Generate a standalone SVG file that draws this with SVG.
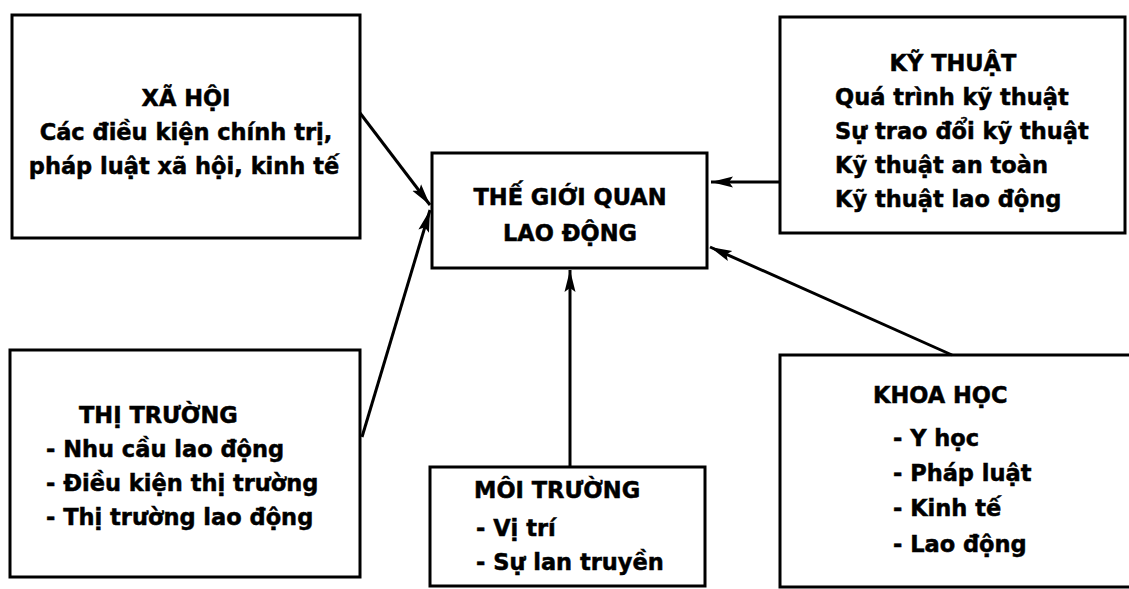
<svg xmlns="http://www.w3.org/2000/svg" width="1129" height="589" viewBox="0 0 1129 589">
<style>
.box{fill:#fff;stroke:#000;stroke-width:3}
.t{font-family:"DejaVu Sans","Liberation Sans",sans-serif;font-weight:bold;font-size:22.5px;fill:#000;stroke:#000;stroke-width:0.5}
.c{text-anchor:middle}
.conn line{stroke:#000;stroke-width:3;marker-end:url(#ah)}
</style>
<defs>
<marker id="ah" markerUnits="userSpaceOnUse" markerWidth="24" markerHeight="14" refX="22" refY="6" orient="auto" viewBox="0 0 24 12">
<path d="M0,0.5 L22,6 L0,11.5 L4,6 z" fill="#000"/>
</marker>
</defs>
<rect width="1129" height="589" fill="#fff"/>
<g id="xahoi">
<rect class="box" x="12" y="15" width="348" height="223"/>
<text class="t c" x="186" y="106">XÃ HỘI</text>
<text class="t c" x="186" y="140">Các điều kiện chính trị,</text>
<text class="t c" x="184" y="174">pháp luật xã hội, kinh tế</text>
</g>
<g id="thegioiquan">
<rect class="box" x="432" y="153" width="275" height="115"/>
<text class="t c" x="570" y="205">THẾ GIỚI QUAN</text>
<text class="t c" x="570" y="241">LAO ĐỘNG</text>
</g>
<g id="kythuat">
<rect class="box" x="780" y="17" width="345" height="216"/>
<text class="t c" x="953" y="71">KỸ THUẬT</text>
<text class="t" x="835" y="105">Quá trình kỹ thuật</text>
<text class="t" x="835" y="139">Sự trao đổi kỹ thuật</text>
<text class="t" x="835" y="173">Kỹ thuật an toàn</text>
<text class="t" x="835" y="207">Kỹ thuật lao động</text>
</g>
<g id="thitruong">
<rect class="box" x="10" y="350" width="350" height="227"/>
<text class="t" x="79" y="423">THỊ TRƯỜNG</text>
<text class="t" x="46" y="457">- Nhu cầu lao động</text>
<text class="t" x="46" y="491">- Điều kiện thị trường</text>
<text class="t" x="46" y="525">- Thị trường lao động</text>
</g>
<g id="moitruong">
<rect class="box" x="430" y="467" width="275" height="119"/>
<text class="t" x="474" y="498">MÔI TRƯỜNG</text>
<text class="t" x="476" y="536">- Vị trí</text>
<text class="t" x="476" y="570">- Sự lan truyền</text>
</g>
<g id="khoahoc">
<rect class="box" x="780" y="355" width="360" height="232"/>
<text class="t" x="873" y="403">KHOA HỌC</text>
<text class="t" x="893" y="446">- Y học</text>
<text class="t" x="893" y="481">- Pháp luật</text>
<text class="t" x="893" y="516">- Kinh tế</text>
<text class="t" x="893" y="552">- Lao động</text>
</g>
<g id="connectors" class="conn">
<line x1="360" y1="113" x2="430" y2="205"/>
<line x1="362" y1="437" x2="430" y2="210"/>
<line x1="570" y1="467" x2="570" y2="270"/>
<line x1="780" y1="182" x2="711" y2="182"/>
<line x1="952" y1="355" x2="710" y2="247"/>
</g>
</svg>
